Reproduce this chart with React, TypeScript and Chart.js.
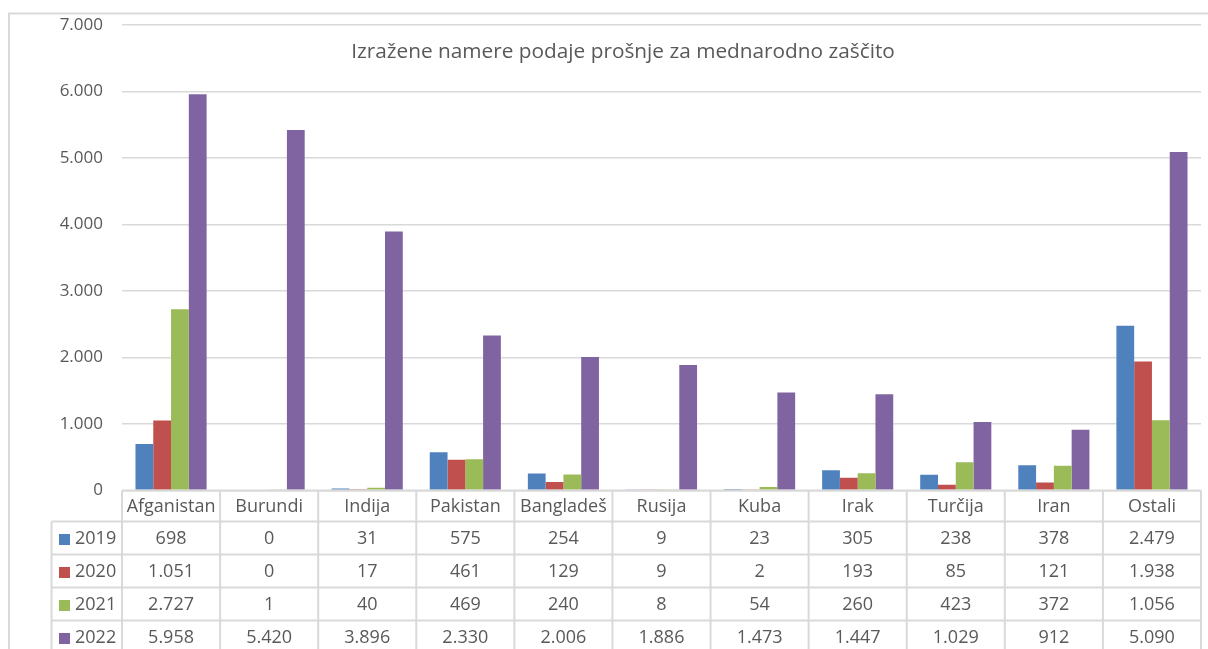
import React, { useEffect, useRef } from "react";
import { Chart, registerables } from "chart.js";

Chart.register(...registerables);

const categories = ["Afganistan", "Burundi", "Indija", "Pakistan", "Bangladeš", "Rusija", "Kuba", "Irak", "Turčija", "Iran", "Ostali"];
const seriesNames = ["2019", "2020", "2021", "2022"];
const values2019 = [698, 0, 31, 575, 254, 9, 23, 305, 238, 378, 2479];
const values2020 = [1051, 0, 17, 461, 129, 9, 2, 193, 85, 121, 1938];
const values2021 = [2727, 1, 40, 469, 240, 8, 54, 260, 423, 372, 1056];
const values2022 = [5958, 5420, 3896, 2330, 2006, 1886, 1473, 1447, 1029, 912, 5090];
const colors = ["#4F81BD", "#C0504D", "#9BBB59", "#8064A2"];
const title = "Izražene namere podaje prošnje za mednarodno zaščito";

const allSeries = [values2019, values2020, values2021, values2022];

function fmt(n: number): string {
  return String(Math.round(n)).replace(/\B(?=(\d{3})+(?!\d))/g, ".");
}

const FONT = "'Open Sans', sans-serif";
const TEXT = "#595959";
const LINE = "#d9d9d9";

const tablePlugin = {
  id: "tablePlugin",
  afterDraw(chart: any) {
    const ctx = chart.ctx as CanvasRenderingContext2D;
    const x = chart.scales.x;
    const area = chart.chartArea;
    ctx.save();
    // outer border
    ctx.strokeStyle = LINE;
    ctx.lineWidth = 2;
    ctx.beginPath();
    ctx.moveTo(9, 660);
    ctx.lineTo(9, 13.5);
    ctx.lineTo(1220, 13.5);
    ctx.stroke();

    // title
    ctx.fillStyle = TEXT;
    ctx.font = `20.8px ${FONT}`;
    ctx.textAlign = "center";
    ctx.textBaseline = "middle";
    ctx.fillText(title, 623, 52);

    const n = categories.length;
    const w = (x.getPixelForValue(1) - x.getPixelForValue(0));
    const left = x.getPixelForValue(0) - w / 2;
    const right = left + w * n;
    const top = area.bottom;
    const headerH = 31;
    const rowH = 33;
    const legendLeft = 51.5;
    const rowsTop = top + headerH;
    const bottom = rowsTop + rowH * seriesNames.length;

    ctx.strokeStyle = LINE;
    ctx.lineWidth = 2;
    ctx.beginPath();
    ctx.moveTo(left, top);
    ctx.lineTo(right, top);
    for (let r = 0; r <= seriesNames.length; r++) {
      const yy = rowsTop + r * rowH;
      ctx.moveTo(legendLeft, yy);
      ctx.lineTo(right, yy);
    }
    for (let c = 0; c <= n; c++) {
      const xx = left + c * w;
      ctx.moveTo(xx, top);
      ctx.lineTo(xx, bottom);
    }
    ctx.moveTo(legendLeft, rowsTop);
    ctx.lineTo(legendLeft, bottom);
    ctx.stroke();

    ctx.font = `18px ${FONT}`;
    ctx.fillStyle = TEXT;
    ctx.textAlign = "center";
    ctx.textBaseline = "middle";
    for (let c = 0; c < n; c++) {
      const cx = x.getPixelForValue(c);
      ctx.fillText(categories[c], cx, top + headerH / 2 + 1);
      for (let r = 0; r < seriesNames.length; r++) {
        ctx.fillText(fmt(allSeries[r][c]), cx, rowsTop + r * rowH + rowH / 2 + 1);
      }
    }
    ctx.textAlign = "left";
    for (let r = 0; r < seriesNames.length; r++) {
      const cy = rowsTop + r * rowH + rowH / 2 + 1;
      ctx.fillStyle = colors[r];
      ctx.fillRect(59, cy - 5, 11, 11);
      ctx.fillStyle = TEXT;
      ctx.fillText(seriesNames[r], 75, cy);
    }
    ctx.restore();
  },
};

export default function App() {
  const ref = useRef<HTMLCanvasElement | null>(null);
  useEffect(() => {
    if (!ref.current) return;
    const chart = new Chart(ref.current, {
      type: "bar",
      data: {
        labels: categories,
        datasets: seriesNames.map((name, i) => ({
          label: name,
          data: allSeries[i],
          backgroundColor: colors[i],
          borderWidth: 0,
          categoryPercentage: 0.725,
          barPercentage: 1,
        })),
      },
      options: {
        animation: false,
        responsive: false,
        maintainAspectRatio: false,
        layout: { padding: { left: 0, right: 7, top: 25, bottom: 158.5 } },
        plugins: { legend: { display: false }, title: { display: false }, tooltip: { enabled: false } },
        scales: {
          x: { display: false, grid: { display: false } },
          y: {
            min: 0,
            max: 7000,
            afterFit: (s: any) => {
              s.width = 122;
              s.paddingTop = 0;
              s.paddingBottom = 0;
            },
            border: { display: false },
            grid: { color: LINE, lineWidth: 1.5, drawTicks: false },
            ticks: {
              stepSize: 1000,
              padding: 19,
              color: TEXT,
              font: { family: FONT, size: 17 },
              callback: (v: any) => fmt(Number(v)),
            },
          },
        },
      },
      plugins: [tablePlugin],
    });
    return () => chart.destroy();
  }, []);
  return (
    <div style={{ position: "absolute", left: 0, top: 0, width: 1208, height: 649, background: "#fff", overflow: "hidden" }}>
      <canvas ref={ref} width={1208} height={649} style={{ width: 1208, height: 649, display: "block" }} />
    </div>
  );
}
